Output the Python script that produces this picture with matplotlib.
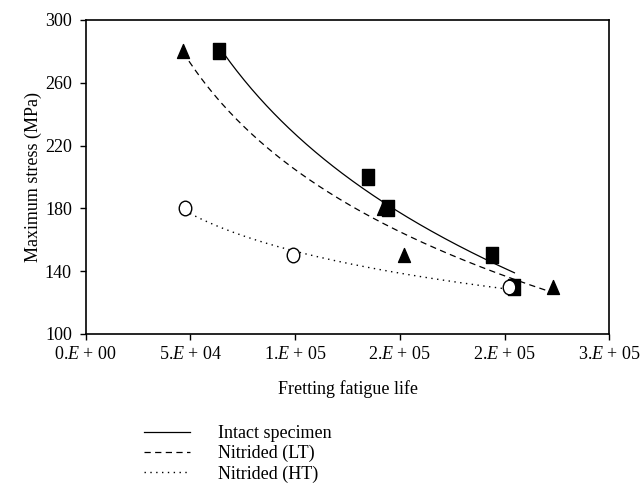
import numpy as np
import matplotlib
matplotlib.use("Agg")
import matplotlib.pyplot as plt
from matplotlib.lines import Line2D
from matplotlib.path import Path

plt.rcParams["font.family"] = ["Liberation Serif", "DejaVu Serif"]
plt.rcParams["mathtext.fontset"] = "custom"
plt.rcParams["mathtext.it"] = "Liberation Serif:italic"
plt.rcParams["mathtext.rm"] = "Liberation Serif"

# ── Data ──────────────────────────────────────────────────────────────────────
intact_life = [63600, 134800, 144400, 194000, 204700]
intact_stress = [280, 200, 180, 150, 130]

lt_life = [46500, 142000, 152000, 223000]
lt_stress = [280, 180, 150, 130]

ht_life = [47300, 98800, 202300]
ht_stress = [180, 150, 130]

x_ticks = [0, 50000, 100000, 150000, 200000, 250000]
x_tick_labels = ["0.$E$ + 00", "5.$E$ + 04", "1.$E$ + 05",
                 "2.$E$ + 05", "2.$E$ + 05", "3.$E$ + 05"]
y_ticks = [100, 140, 180, 220, 260, 300]


def log_trend(x, y):
    """Logarithmic trendline y = a + b ln(x), fitted through the data."""
    x = np.asarray(x, float)
    b, a = np.polyfit(np.log(x), y, 1)
    xs = np.linspace(x.min(), x.max(), 200)
    return xs, a + b * np.log(xs)


# markers in the reference are a little taller than wide
SQUARE = Path([(-0.375, -0.5), (0.375, -0.5), (0.375, 0.5), (-0.375, 0.5), (-0.375, -0.5)],
              [Path.MOVETO, Path.LINETO, Path.LINETO, Path.LINETO, Path.CLOSEPOLY])
TRIANGLE = Path([(-0.43, -0.5), (0.43, -0.5), (0.0, 0.5), (-0.43, -0.5)],
                [Path.MOVETO, Path.LINETO, Path.LINETO, Path.CLOSEPOLY])
_circ = Path.unit_circle()
ELLIPSE = Path(_circ.vertices * [0.43, 0.5], _circ.codes)

fig = plt.figure(figsize=(6.4, 4.97), dpi=100)
ax = fig.add_axes([0.134, 0.328, 0.818, 0.632])

# trendlines
xs, ys = log_trend(intact_life, intact_stress)
ax.plot(xs, ys, "-", color="black", lw=0.9)
xs, ys = log_trend(lt_life, lt_stress)
ax.plot(xs, ys, "--", color="black", lw=0.9, dashes=(5, 3.5))
xs, ys = log_trend(ht_life, ht_stress)
ax.plot(xs, ys, ":", color="black", lw=1.0, dashes=(1, 3.2))

# markers
ax.plot(intact_life, intact_stress, ls="none", marker=SQUARE, color="black", ms=11.5, zorder=3)
ax.plot(lt_life, lt_stress, ls="none", marker=TRIANGLE, color="black", ms=10, zorder=3)
ax.plot(ht_life, ht_stress, ls="none", marker=ELLIPSE, mfc="white", mec="black",
        mew=1.0, ms=10.5, zorder=3)

ax.set_xlim(0, 250000)
ax.set_ylim(100, 300)
ax.set_xticks(x_ticks)
ax.set_xticklabels(x_tick_labels)
ax.set_yticks(y_ticks)
ax.tick_params(direction="out", length=4, width=1, labelsize=13, colors="black")
ax.tick_params(axis="x", pad=5)
ax.tick_params(axis="y", pad=6)
for sp in ax.spines.values():
    sp.set_linewidth(1.2)
    sp.set_color("black")

ax.set_xlabel("Fretting fatigue life", fontsize=13, labelpad=12)
ax.set_ylabel("Maximum stress (MPa)", fontsize=13, labelpad=2)

# legend below the plot
handles = [
    Line2D([], [], color="black", lw=0.9, ls="-"),
    Line2D([], [], color="black", lw=0.9, ls="--", dashes=(5, 3.5)),
    Line2D([], [], color="black", lw=1.0, ls=":", dashes=(1, 3.2)),
]
labels = ["Intact specimen", "Nitrided (LT)", "Nitrided (HT)"]
fig.legend(handles, labels, loc="upper left", bbox_to_anchor=(0.213, 0.159),
           frameon=False, fontsize=13, handlelength=2.6, handletextpad=1.55,
           labelspacing=0.16, borderaxespad=0)

fig.savefig("out.png", dpi=100)
